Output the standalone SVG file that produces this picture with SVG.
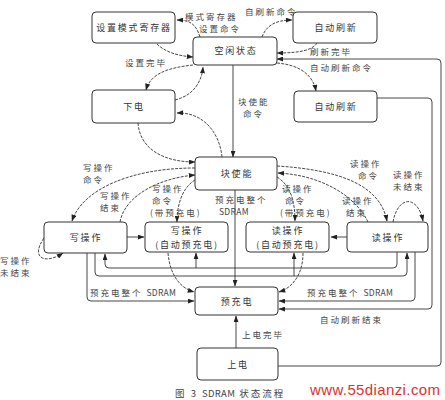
<svg xmlns="http://www.w3.org/2000/svg" width="445" height="400" viewBox="0 0 445 400">
<style>
.box{fill:#fff;stroke:#333;stroke-width:1}
.t{font-family:"Noto Sans CJK SC","Noto Sans",sans-serif;font-size:8.5px;fill:#444;letter-spacing:2px}
.bt{font-family:"Noto Sans CJK SC","Noto Sans",sans-serif;font-size:9px;fill:#333;letter-spacing:1.8px;text-anchor:middle}
.lat{letter-spacing:0.3px}
.ln{fill:none;stroke:#333;stroke-width:0.9;marker-end:url(#ah)}
.cv{fill:none;stroke:#333;stroke-width:0.9;stroke-dasharray:3 1.2;marker-end:url(#ah)}
</style>
<defs>
<marker id="ah" viewBox="0 0 8 6" refX="7.5" refY="3" markerWidth="7" markerHeight="5" markerUnits="userSpaceOnUse" orient="auto">
<path d="M0,0 L8,3 L0,6 Z" fill="#222"/>
</marker>
</defs>
<rect width="445" height="400" fill="#fff"/>

<g id="connectors">
<path class="cv" d="M200,37 C196,24 190,20 177,20"/>
<path class="cv" d="M157,44 C165,52 178,56 193,57"/>
<path class="cv" d="M193,65 C165,68 150,75 146,90"/>
<path class="cv" d="M175,100 C195,95 202,80 203,67"/>
<path class="cv" d="M262,37 C266,26 275,20 292,20"/>
<path class="cv" d="M317,43 C313,50 300,53 277,53"/>
<path class="ln" d="M278,366 H437 Q441,366 441,362 V63 Q441,59 437,59 H277"/>
<path class="cv" d="M277,63 C300,65 313,75 316,91"/>
<path class="ln" d="M377,98 H428 Q432,98 432,102 V305 Q432,309 428,309 H279"/>
<path class="ln" d="M233,65 V157"/>
<path class="cv" d="M138,123 C140,150 165,162 195,162"/>
<path class="cv" d="M222,157 C220,135 205,112 177,113"/>
<path class="cv" d="M195,168 C130,168 82,190 72,221"/>
<path class="cv" d="M120,222 C125,195 160,178 195,175"/>
<path class="cv" d="M195,180 C182,188 177,205 177,222"/>
<path class="cv" d="M277,166 C340,170 380,185 387,221"/>
<path class="cv" d="M368,222 C355,195 320,175 278,173"/>
<path class="cv" d="M277,177 C290,185 295,200 295,221"/>
<path class="cv" d="M393,222 C398,195 418,195 423,221"/>
<path class="cv" d="M44,238 C30,258 45,265 63,253"/>
<path class="ln" d="M127,237 H144"/>
<path class="ln" d="M347,237 H331"/>
<path class="ln" d="M87,253 V297 Q87,301 91,301 H194"/>
<path class="cv" d="M168,253 C170,275 180,288 194,292"/>
<path class="ln" d="M95,253 V272 Q95,276 99,276 H403 Q407,276 407,272 V253"/>
<path class="ln" d="M397,252 V264 Q397,268 393,268 H109 Q105,268 105,264 V254"/>
<path class="ln" d="M196,268 V253"/>
<path class="ln" d="M294,276 V253"/>
<path class="ln" d="M415,252 V297 Q415,301 411,301 H279"/>
<path class="cv" d="M303,253 C303,275 292,288 279,292"/>
<path class="ln" d="M235,190 V286"/>
<path class="ln" d="M236,348 V316"/>
</g>

<g id="labels">
<text class="t" x="185" y="20">模式寄存器</text>
<text class="t" x="199" y="32">设置命令</text>
<text class="t" x="125" y="66">设置完毕</text>
<text class="t" x="245" y="15">自刷新命令</text>
<text class="t" x="310" y="55">刷新完毕</text>
<text class="t" x="310" y="71">自动刷新命令</text>
<text class="t" x="238" y="105">块使能</text>
<text class="t" x="243" y="117">命令</text>
<text class="t" x="83" y="171">写操作</text>
<text class="t" x="83" y="183">命令</text>
<text class="t" x="100" y="199">写操作</text>
<text class="t" x="100" y="211">结束</text>
<text class="t" x="152" y="192">写操作</text>
<text class="t" x="152" y="204">命令</text>
<text class="t" x="150" y="216">(带预充电)</text>
<text class="t" x="215" y="203">预充电整个</text>
<text class="t lat" x="219" y="215">SDRAM</text>
<text class="t" x="282" y="192">读操作</text>
<text class="t" x="285" y="204">命令</text>
<text class="t" x="280" y="216">(带预充电)</text>
<text class="t" x="342" y="204">读操作</text>
<text class="t" x="346" y="216">结束</text>
<text class="t" x="350" y="167">读操作</text>
<text class="t" x="358" y="179">命令</text>
<text class="t" x="393" y="178">读操作</text>
<text class="t" x="393" y="190">未结束</text>
<text class="t" x="0" y="264">写操作</text>
<text class="t" x="0" y="276">未结束</text>
<text class="t" x="90" y="296">预充电整个 <tspan class="lat">SDRAM</tspan></text>
<text class="t" x="307" y="296">预充电整个 <tspan class="lat">SDRAM</tspan></text>
<text class="t" x="320" y="323">自动刷新结束</text>
<text class="t" x="242" y="338">上电完毕</text>
<text class="t" x="175" y="397" style="font-size:9.5px">图 3 <tspan class="lat">SDRAM</tspan> 状态流程</text>
<text x="310" y="395" textLength="130" style="font-family:'Liberation Sans',sans-serif;font-size:15px;fill:#e03030">www.55dianzi.com</text>
</g>

<g id="n_setmode"><rect class="box" x="92" y="12" width="83" height="31" rx="4"/><text class="bt" x="134" y="31">设置模式寄存器</text></g>
<g id="n_idle"><rect class="box" x="193" y="37" width="84" height="28" rx="4"/><text class="bt" x="236" y="54">空闲状态</text></g>
<g id="n_selfrefresh"><rect class="box" x="293" y="12" width="84" height="31" rx="4"/><text class="bt" x="336" y="31">自动刷新</text></g>
<g id="n_powerdown"><rect class="box" x="92" y="90" width="83" height="33" rx="4"/><text class="bt" x="134" y="110">下电</text></g>
<g id="n_autorefresh"><rect class="box" x="294" y="91" width="83" height="31" rx="4"/><text class="bt" x="336" y="110">自动刷新</text></g>
<g id="n_bankact"><rect class="box" x="195" y="157" width="82" height="33" rx="4"/><text class="bt" x="237" y="177">块使能</text></g>
<g id="n_write"><rect class="box" x="44" y="222" width="83" height="31" rx="4"/><text class="bt" x="86" y="241">写操作</text></g>
<g id="n_writeap"><rect class="box" x="145" y="222" width="83" height="30" rx="4"/><text class="bt" x="187" y="234">写操作</text><text class="bt" x="187" y="248">(自动预充电)</text></g>
<g id="n_readap"><rect class="box" x="246" y="222" width="83" height="30" rx="4"/><text class="bt" x="288" y="234">读操作</text><text class="bt" x="288" y="248">(自动预充电)</text></g>
<g id="n_read"><rect class="box" x="347" y="222" width="81" height="30" rx="4"/><text class="bt" x="388" y="241">读操作</text></g>
<g id="n_precharge"><rect class="box" x="195" y="287" width="83" height="28" rx="4"/><text class="bt" x="237" y="305">预充电</text></g>
<g id="n_powerup"><rect class="box" x="197" y="348" width="81" height="32" rx="4"/><text class="bt" x="238" y="368">上电</text></g>
</svg>
